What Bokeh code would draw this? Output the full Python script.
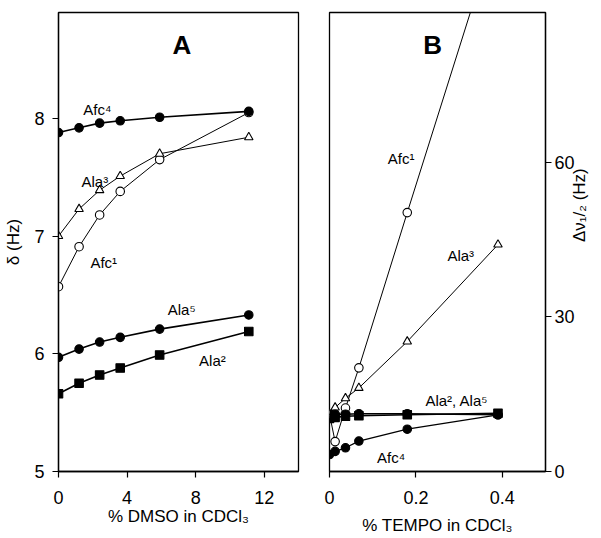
import math
from bokeh.plotting import figure
from bokeh.layouts import row
from bokeh.models import Range1d, Label, FixedTicker
from bokeh.embed import file_html
from bokeh.resources import INLINE

FONT = "Liberation Sans"

# ---------------- Panel A data: % DMSO in CDCl3 vs delta (Hz) ----------------
dmso = [0, 1.2, 2.4, 3.6, 5.9, 11.1]
a_afc4 = [7.88, 7.92, 7.96, 7.98, 8.01, 8.06]
a_ala3 = [7.00, 7.23, 7.39, 7.51, 7.70, 7.84]
a_afc1 = [6.57, 6.91, 7.18, 7.38, 7.65, 8.05]
a_ala5 = [5.97, 6.04, 6.10, 6.14, 6.21, 6.33]
a_ala2 = [5.66, 5.75, 5.82, 5.88, 5.99, 6.19]
a_xticks = [0, 4, 8, 12]
a_yticks = [5, 6, 7, 8]

# ---------------- Panel B data: % TEMPO in CDCl3 vs linewidth (Hz) ----------------
tempo = [0, 0.013, 0.037, 0.068, 0.18, 0.39]
b_afc1 = [11.1, 5.8, 12.3, 20.1, 50.2, 106.0]
b_ala3 = [11.1, 12.4, 14.2, 16.2, 25.2, 44.0]
b_ala2 = [10.3, 10.5, 10.7, 10.8, 11.0, 11.3]
b_ala5 = [11.0, 11.1, 11.1, 11.2, 11.2, 11.0]
b_afc4 = [3.3, 3.9, 4.6, 5.9, 8.2, 11.0]
b_xticks = [0, 0.2, 0.4]
b_yticks = [0, 30, 60]


def style(p):
    p.outline_line_color = "black"
    p.outline_line_width = 1.3
    p.outline_line_alpha = 1
    p.xgrid.visible = False
    p.ygrid.visible = False
    p.background_fill_color = "white"
    p.border_fill_color = "white"
    for ax in p.axis:
        ax.axis_line_color = "black"
        ax.axis_line_width = 1.3
        ax.major_tick_out = 6
        ax.major_tick_in = 0
        ax.major_tick_line_color = "black"
        ax.major_tick_line_width = 1.2
        ax.minor_tick_line_color = None
        ax.major_label_text_font = FONT
        ax.major_label_text_font_size = "18px"
        ax.major_label_text_color = "black"
        ax.axis_label_text_font = FONT
        ax.axis_label_text_font_size = "17px"
        ax.axis_label_text_font_style = "normal"
        ax.axis_label_text_color = "black"


def series(p, x, y, marker, filled, lw):
    p.line(x, y, line_color="black", line_width=lw)
    p.scatter(x, y, marker=marker, size=8.5, line_color="black", line_width=1.1,
              fill_color="black" if filled else "white")


def label(p, x, y, text, size="15px", bold=False, align="left"):
    p.add_layout(Label(x=x, y=y, text=text, text_font=FONT, text_font_size=size,
                       text_font_style="bold" if bold else "normal",
                       text_color="black", text_align=align,
                       text_baseline="alphabetic"))


# ---------------- Panel A ----------------
pa = figure(width=300, height=538, x_range=Range1d(0, 14), y_range=Range1d(5, 8.9),
            output_backend="svg", toolbar_location=None,
            min_border_left=58, min_border_right=2, min_border_top=12, min_border_bottom=67)
style(pa)
pa.xaxis.ticker = FixedTicker(ticks=a_xticks)
pa.yaxis.ticker = FixedTicker(ticks=a_yticks)
pa.xaxis.axis_label = "% DMSO in CDCl\u2083"
pa.yaxis.axis_label = "\u03b4 (Hz)"
pa.xaxis.major_label_standoff = 13
pa.xaxis.axis_label_standoff = 0
pa.yaxis.major_label_standoff = 8
pa.yaxis.axis_label_standoff = 8

series(pa, dmso, a_afc1, "circle", False, 1.0)
series(pa, dmso, a_ala3, "triangle", False, 1.0)
series(pa, dmso, a_afc4, "circle", True, 1.6)
series(pa, dmso, a_ala5, "circle", True, 1.6)
series(pa, dmso, a_ala2, "square", True, 1.6)

label(pa, 7.2, 8.62, "A", size="26px", bold=True, align="center")
label(pa, 1.45, 8.08, "Afc\u2074")
label(pa, 1.34, 7.46, "Ala\u00b3")
label(pa, 1.86, 6.78, "Afc\u00b9")
label(pa, 6.37, 6.38, "Ala\u2075")
label(pa, 8.2, 5.94, "Ala\u00b2")

# ---------------- Panel B ----------------
pb = figure(width=301, height=538, x_range=Range1d(0, 0.5), y_range=Range1d(0, 89),
            y_axis_location="right",
            output_backend="svg", toolbar_location=None,
            min_border_left=29, min_border_right=1, min_border_top=12, min_border_bottom=67)
style(pb)
pb.xaxis.ticker = FixedTicker(ticks=b_xticks)
pb.yaxis.ticker = FixedTicker(ticks=b_yticks)
pb.xaxis.axis_label = "% TEMPO in CDCl\u2083"
pb.yaxis.axis_label = "\u0394\u03bd\u2081/\u2082 (Hz)"
pb.yaxis.axis_label_orientation = math.pi / 2
pb.xaxis.major_label_standoff = 13
pb.xaxis.axis_label_standoff = 9
pb.yaxis.major_label_standoff = 3
pb.yaxis.axis_label_standoff = 2

series(pb, tempo, b_afc1, "circle", False, 1.0)
series(pb, tempo, b_ala3, "triangle", False, 1.0)
series(pb, tempo, b_ala5, "circle", True, 1.6)
series(pb, tempo, b_ala2, "square", True, 1.6)
series(pb, tempo, b_afc4, "circle", True, 1.3)

label(pb, 0.239, 82.7, "B", size="26px", bold=True, align="center")
label(pb, 0.135, 60.7, "Afc\u00b9")
label(pb, 0.273, 41.9, "Ala\u00b3")
label(pb, 0.222, 13.8, "Ala\u00b2, Ala\u2075")
label(pb, 0.11, 2.7, "Afc\u2074")

layout = row(pa, pb)
open("out.html", "w").write(file_html(layout, INLINE))
